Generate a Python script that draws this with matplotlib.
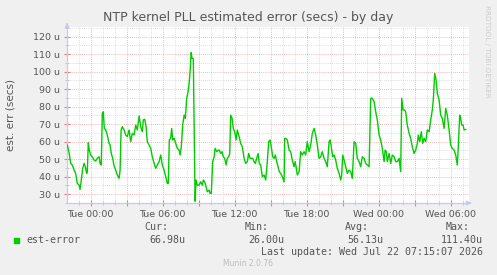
"""Munin style NTP kernel PLL estimated error graph (by day)."""

import matplotlib
matplotlib.use('Agg')
import matplotlib.pyplot as plt
from matplotlib.ticker import MultipleLocator, FuncFormatter

# minutes relative to Tue 00:00
minutes = [
    -117, -108, -100, -92, -83, -75, -67, -58, -53, -47, -40, -33, -27, -20, -17, -12, -7,
    0, 8, 17, 25, 33, 42, 47, 53, 58, 63, 68, 75, 83, 92, 97, 103, 110, 117, 125, 133,
    142, 147, 152, 158, 167, 175, 183, 192, 200, 208, 217, 225, 233, 242, 250, 258, 263,
    270, 277, 283, 292, 300, 308, 317, 325, 333, 342, 350, 358, 367, 375, 383, 388, 393,
    400, 405, 410, 417, 425, 433, 442, 447, 453, 460, 467, 473, 480, 487, 493, 498, 502,
    507, 513, 522, 527, 533, 542, 550, 558, 563, 570, 577, 583, 592, 597, 603, 610, 617,
    622, 630, 637, 643, 650, 657, 663, 670, 677, 683, 690, 695, 700, 707, 713, 720, 727,
    733, 742, 750, 758, 767, 775, 783, 790, 797, 803, 810, 817, 823, 830, 837, 843, 850,
    858, 867, 875, 883, 890, 897, 903, 910, 917, 923, 930, 937, 943, 950,
    958, 967, 970, 975, 983, 992, 1000, 1008, 1017, 1022, 1027, 1033, 1042, 1050, 1058,
    1067, 1075, 1083, 1092, 1100, 1108, 1117, 1125, 1133, 1142, 1150, 1158, 1167, 1175,
    1183, 1192, 1197, 1203, 1210, 1217, 1225, 1233, 1242, 1250, 1255, 1260, 1267, 1275,
    1283, 1292, 1300, 1308, 1317, 1325, 1333, 1342, 1350, 1358, 1367, 1375, 1383, 1392,
    1400, 1408, 1417, 1425, 1433, 1442, 1450, 1458, 1467, 1472, 1478, 1483, 1492, 1500,
    1508, 1517, 1525, 1533, 1542, 1550, 1555, 1562, 1570, 1575, 1583, 1592, 1600, 1608,
    1617, 1625, 1633, 1638, 1645, 1653, 1660, 1667, 1675, 1683, 1692, 1700, 1708, 1713,
    1720, 1727, 1733, 1742, 1750, 1758, 1767, 1775, 1783, 1792, 1800, 1808, 1817, 1825,
    1833, 1838, 1845, 1850, 1855, 1862, 1867, 1875,
]

# est-error in microseconds
est_error = [
    58.1, 53.7, 47.6, 46.7, 43.8, 41.9, 36.2, 35.2, 32.8, 38.1, 44.8, 47.6, 45.7, 41.9, 43.0, 59.4, 55.2,
    52.4, 51.4, 49.5, 49.0, 50.5, 51.4, 47.6, 46.7, 76.2, 77.1, 67.6, 66.7, 63.8, 59.0, 58.1, 53.3, 50.5, 46.1, 43.8, 41.0,
    39.1, 43.8, 66.7, 68.6, 66.7, 63.8, 62.9, 66.7, 60.0, 64.8, 63.8, 69.5, 66.7, 74.7, 68.6, 65.7, 72.4,
    72.8, 68.6, 60.0, 58.1, 56.2, 51.4, 47.6, 44.8, 46.7, 48.6, 52.4, 46.7, 43.8, 40.0, 36.2, 36.2, 61.0,
    62.0, 67.6, 61.0, 62.0, 59.0, 56.2, 55.2, 52.4, 57.1, 69.5, 75.2, 73.3, 84.8, 88.6, 94.3, 101.9, 110.9,
    107.6, 107.4, 26.0, 38.1, 35.2, 35.2, 37.1, 35.2, 38.1, 37.1, 34.3, 31.4, 32.4, 30.5, 30.5, 48.6, 51.4,
    56.2, 54.3, 55.2, 55.2, 53.3, 54.3, 51.4, 50.5, 46.7, 50.5, 51.4, 53.3, 75.2, 73.3, 67.6, 65.7, 61.0,
    66.7, 62.9, 59.0, 57.1, 50.5, 47.6, 48.6, 53.3, 50.5, 50.5, 50.5, 48.6, 47.6, 50.5, 53.3, 47.6, 46.7,
    40.0, 41.0, 38.1, 48.6, 60.0, 61.0, 57.1, 51.4, 50.5, 52.4, 48.6, 45.7, 42.9, 41.9,
    40.0, 37.1, 61.9, 61.9, 61.0, 55.2, 54.3, 49.5, 45.7, 48.6, 45.7, 41.0, 42.9, 54.3, 52.4,
    54.3, 52.4, 60.0, 54.3, 58.1, 64.8, 67.6, 63.8, 58.1, 50.5, 51.4, 54.3, 50.5, 48.6,
    45.7, 60.0, 61.0, 57.1, 51.4, 52.4, 49.5, 44.8, 41.9, 38.1, 41.0, 52.4, 49.5, 45.7,
    41.9, 43.8, 42.9, 39.1, 60.0, 59.0, 50.5, 48.6, 45.7, 51.4, 50.5, 47.6, 46.7, 45.7,
    84.8, 84.8, 82.9, 77.1, 72.4, 63.8, 61.0, 56.2, 48.6, 55.2, 54.3, 48.6, 53.3, 47.6,
    52.4, 51.4, 48.6, 48.6, 50.5, 42.9, 84.8, 78.1, 78.1, 77.1, 69.5, 64.8, 61.9, 57.1,
    53.3, 55.2, 59.0, 63.8, 60.0, 65.7, 59.0, 61.9, 60.0, 66.7, 65.7, 72.4, 78.1, 83.8,
    99.0, 95.2, 87.6, 83.8, 75.2, 73.3, 67.6, 79.0, 75.2, 66.7, 58.1, 56.2, 55.2, 52.4,
    46.7, 57.1, 75.2, 73.3, 69.5, 69.5, 66.7, 66.98,
]

legend_label = 'est-error'
stat_names = ['Cur:', 'Min:', 'Avg:', 'Max:']
stat_values = ['66.98u', '26.00u', '56.13u', '111.40u']
x_tick_labels = {0: 'Tue 00:00', 360: 'Tue 06:00', 720: 'Tue 12:00',
                 1080: 'Tue 18:00', 1440: 'Wed 00:00', 1800: 'Wed 06:00'}

BG = '#F0F0F0'
TEXT = '#555555'
MGRID = '#F2A0A0'
GRID = '#D4D4D4'
AXIS = '#C8C8F0'
LINE = '#00CC00'

fig = plt.figure(figsize=(4.97, 2.75), dpi=100, facecolor=BG)
ax = fig.add_axes([67 / 497, 1 - 203 / 275, 402 / 497, 176 / 275])
ax.set_facecolor('white')

ax.plot(minutes, est_error, color=LINE, linewidth=1.0, zorder=3)

ax.set_xlim(-118.5, 1891.5)
ax.set_ylim(25.0, 125.5)

ax.xaxis.set_major_locator(MultipleLocator(180))
ax.xaxis.set_minor_locator(MultipleLocator(60))
ax.yaxis.set_major_locator(MultipleLocator(10))
ax.yaxis.set_minor_locator(MultipleLocator(5))
ax.xaxis.set_major_formatter(FuncFormatter(lambda v, pos: x_tick_labels.get(int(round(v)), '')))
ax.yaxis.set_major_formatter(FuncFormatter(lambda v, pos: '%d u' % v if v >= 30 else ''))

ax.grid(which='minor', color=GRID, linestyle=(0, (1, 1.5)), linewidth=0.6, zorder=1)
ax.grid(which='major', color=MGRID, linestyle=(0, (1, 1.5)), linewidth=0.6, zorder=2)

ax.tick_params(which='major', direction='inout', length=4, width=0.8, color='#E88080',
               labelsize=6.8, labelcolor=TEXT, pad=3)
ax.tick_params(which='minor', direction='inout', length=3, width=0.6, color='#C0C0C0')

for side in ['top', 'right']:
    ax.spines[side].set_visible(False)
for side in ['left', 'bottom']:
    ax.spines[side].set_color(AXIS)
    ax.spines[side].set_linewidth(0.9)

# axis arrows
ax.annotate('', xy=(1.013, 0), xytext=(0.995, 0), xycoords='axes fraction',
            arrowprops=dict(arrowstyle='-|>', color=AXIS, lw=0.8, mutation_scale=7))
ax.annotate('', xy=(0, 1.04), xytext=(0, 1.0), xycoords='axes fraction',
            arrowprops=dict(arrowstyle='-|>', color=AXIS, lw=0.8, mutation_scale=7))

fig.text(248 / 497, 1 - 18 / 275, 'NTP kernel PLL estimated error (secs) - by day',
         ha='center', va='center', fontsize=9, color=TEXT)
fig.text(11 / 497, 1 - 115 / 275, 'est. err (secs)', rotation=90,
         ha='center', va='center', fontsize=7.5, color=TEXT)
fig.text(487 / 497, 1 - 5 / 275, 'RRDTOOL / TOBI OETIKER', rotation=270,
         ha='center', va='top', fontsize=5.2, color='#CCCCCC')

# legend
mono = 'DejaVu Sans Mono'
fig.patches.append(plt.Rectangle((14 / 497, 1 - 243 / 275), 5 / 497, 5 / 275,
                                 transform=fig.transFigure, color=LINE, figure=fig))
fig.text(26 / 497, 1 - 240 / 275, legend_label, family=mono, fontsize=7.2,
         color=TEXT, va='center', ha='left')
head_right = [168, 269, 369, 470]
val_right = [185, 284, 383, 483]
for name, hx, val, vx in zip(stat_names, head_right, stat_values, val_right):
    fig.text(hx / 497, 1 - 227 / 275, name, family=mono, fontsize=7.2,
             color=TEXT, va='center', ha='right')
    fig.text(vx / 497, 1 - 240 / 275, val, family=mono, fontsize=7.2,
             color=TEXT, va='center', ha='right')
fig.text(483 / 497, 1 - 252 / 275, 'Last update: Wed Jul 22 07:15:07 2026', family=mono,
         fontsize=7.2, color=TEXT, va='center', ha='right')
fig.text(248 / 497, 1 - 263 / 275, 'Munin 2.0.76', fontsize=5.5, color='#BBBBBB',
         ha='center', va='center')

fig.savefig('out.png', dpi=100, facecolor=BG)
